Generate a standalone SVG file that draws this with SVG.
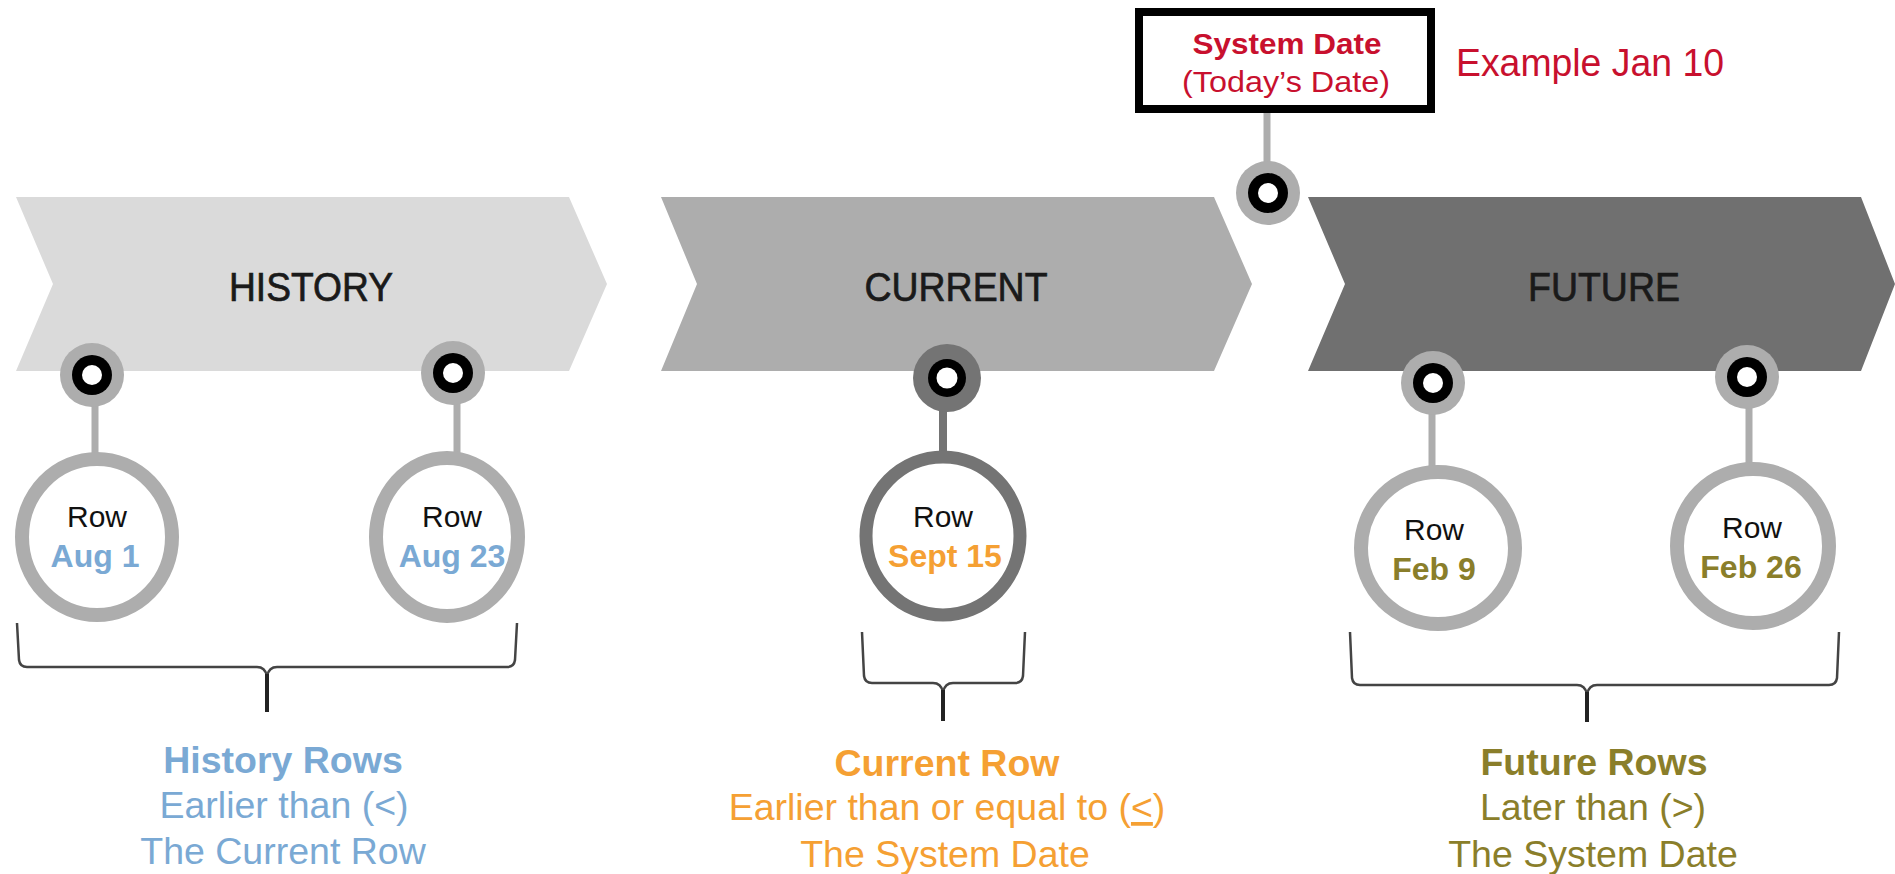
<svg xmlns="http://www.w3.org/2000/svg" width="1895" height="874" viewBox="0 0 1895 874">
<style>
.lbl{font-family:"Liberation Sans",Arial,sans-serif;font-size:40px;fill:#1a1a1a;stroke:#1a1a1a;stroke-width:0.7;text-anchor:middle}
.row{font-family:"Liberation Sans",Arial,sans-serif;font-size:30px;fill:#111;text-anchor:middle}
.date{font-family:"Liberation Sans",Arial,sans-serif;font-size:32px;font-weight:bold;text-anchor:middle}
.cap{font-family:"Liberation Sans",Arial,sans-serif;font-size:37.5px;text-anchor:middle}
.red{fill:#c8102e}
.blue{fill:#7aa9d4}
.orange{fill:#f5a033}
.olive{fill:#8a7e2a}
.ring{fill:#fff;stroke:#adadad;stroke-width:14}
.ringd{fill:#fff;stroke:#747474;stroke-width:13}
.stem{stroke:#adadad;stroke-width:7;fill:none}
.stemd{stroke:#747474;stroke-width:8;fill:none}
.brace{fill:none;stroke:#444;stroke-width:2.5}
.tick{fill:none;stroke:#222;stroke-width:4}
</style>
<defs>
<g id="pin"><circle r="32" fill="#adadad"/><circle r="20" fill="#000"/><circle r="10" fill="#fff"/></g>
<g id="pind"><circle r="34" fill="#747474"/><circle r="19" fill="#000"/><circle r="10.5" fill="#fff"/></g>
</defs>
<rect width="1895" height="874" fill="#fff"/>

<g id="history">
<polygon points="16,197 569,197 607,284 569,371 16,371 53,284" fill="#dadada"/>
<text class="lbl" x="311" y="301" textLength="164" lengthAdjust="spacingAndGlyphs">HISTORY</text>
</g>
<g id="current">
<polygon points="661,197 1214,197 1252,284 1214,371 661,371 697,284" fill="#adadad"/>
<text class="lbl" x="956" y="301" textLength="183" lengthAdjust="spacingAndGlyphs">CURRENT</text>
</g>
<g id="future">
<polygon points="1308,197 1861,197 1895,284 1861,371 1308,371 1345,284" fill="#707070"/>
<text class="lbl" x="1604" y="301" textLength="152" lengthAdjust="spacingAndGlyphs">FUTURE</text>
</g>

<g id="connectors">
<line class="stem" x1="1267" y1="112" x2="1267" y2="165"/>
<line class="stem" x1="95" y1="400" x2="95" y2="455"/>
<line class="stem" x1="457" y1="400" x2="457" y2="455"/>
<line class="stemd" x1="943" y1="405" x2="943" y2="455"/>
<line class="stem" x1="1432" y1="410" x2="1432" y2="468"/>
<line class="stem" x1="1749" y1="405" x2="1749" y2="465"/>
</g>

<g id="system-date">
<rect x="1139" y="12" width="292" height="97" fill="#fff" stroke="#000" stroke-width="8"/>
<text class="red" x="1287" y="54" style="font-family:'Liberation Sans',Arial,sans-serif;font-size:30px;font-weight:bold;text-anchor:middle" textLength="189" lengthAdjust="spacingAndGlyphs">System Date</text>
<text class="red" x="1286" y="92" style="font-family:'Liberation Sans',Arial,sans-serif;font-size:30px;text-anchor:middle" textLength="208" lengthAdjust="spacingAndGlyphs">(Today’s Date)</text>
</g>
<g id="system-pin"><use href="#pin" x="1268" y="193"/></g>
<g id="example"><text class="red" x="1456" y="76" style="font-family:'Liberation Sans',Arial,sans-serif;font-size:38px" textLength="268" lengthAdjust="spacingAndGlyphs">Example Jan 10</text></g>

<g id="pin-aug1"><use href="#pin" x="92" y="375"/></g>
<g id="pin-aug23"><use href="#pin" x="453" y="373"/></g>
<g id="pin-sept15"><use href="#pind" x="947" y="378"/></g>
<g id="pin-feb9"><use href="#pin" x="1433" y="383"/></g>
<g id="pin-feb26"><use href="#pin" x="1747" y="377"/></g>

<g id="row-aug1">
<ellipse class="ring" cx="97" cy="537" rx="75" ry="78"/>
<text class="row" x="97" y="527">Row</text>
<text class="date blue" x="95" y="567">Aug 1</text>
</g>
<g id="row-aug23">
<ellipse class="ring" cx="447" cy="537" rx="71" ry="79"/>
<text class="row" x="452" y="527">Row</text>
<text class="date blue" x="452" y="567">Aug 23</text>
</g>
<g id="row-sept15">
<ellipse class="ringd" cx="943" cy="536" rx="77" ry="79"/>
<text class="row" x="943" y="527">Row</text>
<text class="date orange" x="945" y="567">Sept 15</text>
</g>
<g id="row-feb9">
<ellipse class="ring" cx="1438" cy="548" rx="77" ry="76"/>
<text class="row" x="1434" y="540">Row</text>
<text class="date olive" x="1434" y="580">Feb 9</text>
</g>
<g id="row-feb26">
<ellipse class="ring" cx="1753" cy="546" rx="76" ry="77"/>
<text class="row" x="1752" y="538">Row</text>
<text class="date olive" x="1751" y="578">Feb 26</text>
</g>

<g id="brace-history">
<path class="brace" d="M17,623 L19,660 Q20,667 27,667 L257,667 Q265,667 267,676 Q269,667 277,667 L507,667 Q514,667 515,660 L517,623"/>
<line class="tick" x1="267" y1="674" x2="267" y2="712"/>
</g>
<g id="brace-current">
<path class="brace" d="M862,632 L864,676 Q865,683 872,683 L933,683 Q941,683 943,692 Q945,683 953,683 L1015,683 Q1022,683 1023,676 L1025,632"/>
<line class="tick" x1="943" y1="690" x2="943" y2="721"/>
</g>
<g id="brace-future">
<path class="brace" d="M1350,632 L1352,678 Q1353,685 1360,685 L1577,685 Q1585,685 1587,694 Q1589,685 1597,685 L1829,685 Q1836,685 1837,678 L1839,632"/>
<line class="tick" x1="1587" y1="692" x2="1587" y2="722"/>
</g>

<g id="caption-history">
<text class="cap blue" x="283" y="773" font-weight="bold">History Rows</text>
<text class="cap blue" x="284" y="818">Earlier than (&lt;)</text>
<text class="cap blue" x="283" y="864">The Current Row</text>
</g>
<g id="caption-current">
<text class="cap orange" x="947" y="776" font-weight="bold">Current Row</text>
<text class="cap orange" x="947" y="820">Earlier than or equal to (<tspan text-decoration="underline">&lt;</tspan>)</text>
<text class="cap orange" x="945" y="867">The System Date</text>
</g>
<g id="caption-future">
<text class="cap olive" x="1594" y="775" font-weight="bold">Future Rows</text>
<text class="cap olive" x="1593" y="820">Later than (&gt;)</text>
<text class="cap olive" x="1593" y="867">The System Date</text>
</g>
</svg>
